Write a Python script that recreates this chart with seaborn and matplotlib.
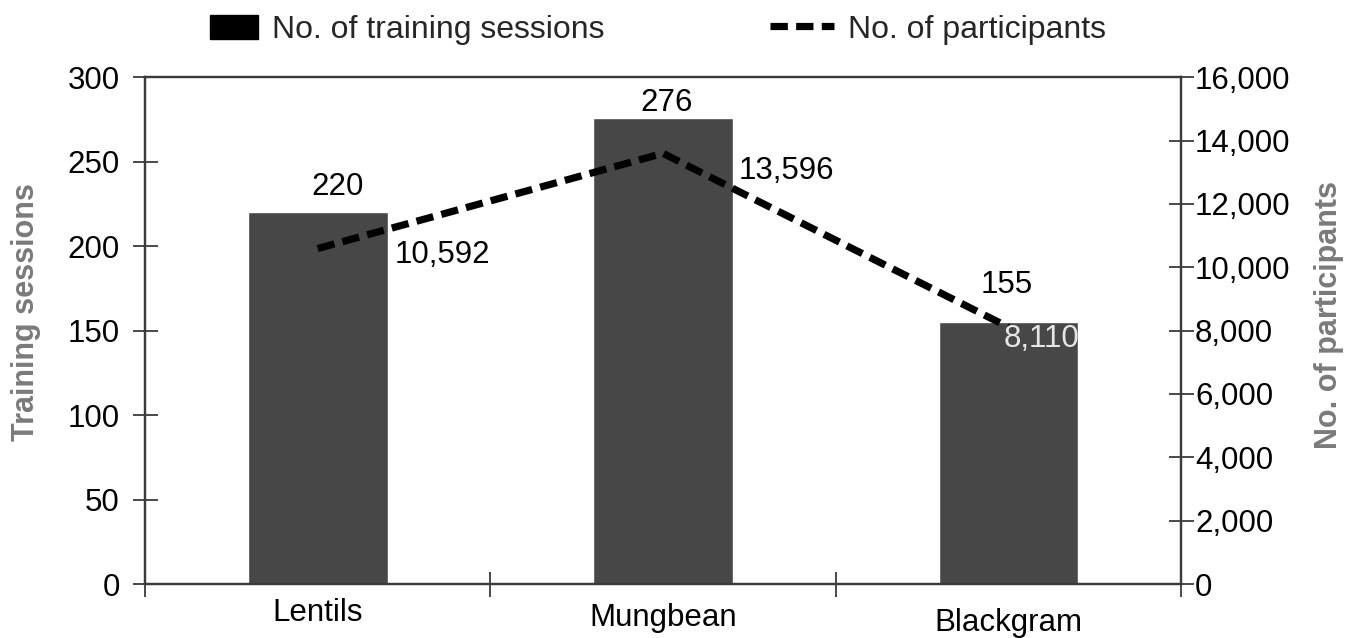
import matplotlib
matplotlib.use("Agg")
import matplotlib.pyplot as plt
import numpy as np
import pandas as pd
import seaborn as sns
from matplotlib.patches import Patch
from matplotlib.lines import Line2D

# Data
crops = ["Lentils", "Mungbean", "Blackgram"]
sessions = [220, 276, 155]
participants = [10592, 13596, 8110]
session_ticks = [0, 50, 100, 150, 200, 250, 300]
participant_ticks = [0, 2000, 4000, 6000, 8000, 10000, 12000, 14000, 16000]

sns.set_theme(style="white")
plt.rcParams["font.family"] = ["Liberation Sans", "DejaVu Sans"]

BAR = "#474747"
SPINE = "#3a3a3a"
LABEL_GRAY = "#7a7a7a"
FS = 22.5

df = pd.DataFrame({"crop": crops, "sessions": sessions, "participants": participants})

fig = plt.figure(figsize=(13.51, 6.38), dpi=100)
ax = fig.add_axes([0.1073, 0.0846, 0.7670, 0.7944])

sns.barplot(data=df, x="crop", y="sessions", color=BAR, width=0.405,
            saturation=1, ax=ax, zorder=2)
ax.set_xlim(-0.5, 2.5)
ax.set_ylim(0, 300)
ax.set_yticks(session_ticks)
ax.set_yticklabels([str(v) for v in session_ticks], fontsize=FS, color="black")
ax.set_xlabel("")
ax.set_ylabel("Training sessions", fontsize=22, color=LABEL_GRAY,
              fontweight="bold")
ax.yaxis.set_label_coords(-0.1, 0.536)

# participants on the secondary axis
ax2 = ax.twinx()
pos = np.arange(len(crops))
sns.lineplot(x=pos, y=participants, ax=ax2, color="black", linewidth=5.2,
             zorder=3)
ax2.lines[0].set_dashes((2.4, 1.15))
ax2.lines[0].set_dash_capstyle("butt")
ax2.set_ylim(0, 16000)
ax2.set_yticks(participant_ticks)
ax2.set_yticklabels([f"{v:,}" for v in participant_ticks], fontsize=FS,
                    color="black")
ax2.set_ylabel("No. of participants", fontsize=22, color=LABEL_GRAY,
               fontweight="bold")
ax2.yaxis.set_label_coords(1.128, 0.53)
ax2.set_xlim(-0.5, 2.5)

# spines and ticks
for a in (ax, ax2):
    for s in a.spines.values():
        s.set_visible(True)
        s.set_color(SPINE)
        s.set_linewidth(1.6)
ax.tick_params(axis="y", direction="inout", length=18, width=1.3,
               color=SPINE, pad=9, left=True)
ax2.tick_params(axis="y", direction="inout", length=18, width=1.3,
                color=SPINE, pad=1, right=True)

# category boundaries as x ticks, category names as text
ax.set_xticks([-0.5, 0.5, 1.5, 2.5])
ax.set_xticklabels([])
ax.tick_params(axis="x", direction="inout", length=18, width=1.3,
               color=SPINE, bottom=True)
name_offsets = [-0.058, -0.068, -0.077]
for i, (name, dy) in enumerate(zip(crops, name_offsets)):
    ax.text(i, dy, name, transform=ax.get_xaxis_transform(), ha="center",
            va="center", fontsize=FS, color="black")

# value labels
sess_off = [(20, 25), (3, 15), (-2, 37)]
for i, (v, off) in enumerate(zip(sessions, sess_off)):
    ax.annotate(f"{v}", (i, v), xytext=off, textcoords="offset pixels",
                ha="center", va="center", fontsize=FS, color="black")

part_off = [(125, -6), (123, -18), (33, -12)]
part_col = ["black", "black", "#e6e6e6"]
for i, (v, off, c) in enumerate(zip(participants, part_off, part_col)):
    ax2.annotate(f"{v:,}", (i, v), xytext=off, textcoords="offset pixels",
                 ha="center", va="center", fontsize=FS, color=c, zorder=5)

ax.set_zorder(1)
ax2.set_zorder(2)
ax2.patch.set_visible(False)

# legend, one entry per block
leg_kw = dict(loc="center left", frameon=False, fontsize=23, borderpad=0,
              borderaxespad=0, handleheight=0.8, handletextpad=0.45)
fig.legend([Patch(facecolor="black", edgecolor="black")],
           ["No. of training sessions"], bbox_to_anchor=(0.1555, 0.953),
           handlelength=1.5, **leg_kw)
fig.legend([Line2D([0], [0], color="black", linewidth=5.2, dashes=(2.4, 1.15))],
           ["No. of participants"], bbox_to_anchor=(0.570, 0.953),
           handlelength=2.0, **leg_kw)

fig.savefig("out.png", dpi=100, facecolor="white")
